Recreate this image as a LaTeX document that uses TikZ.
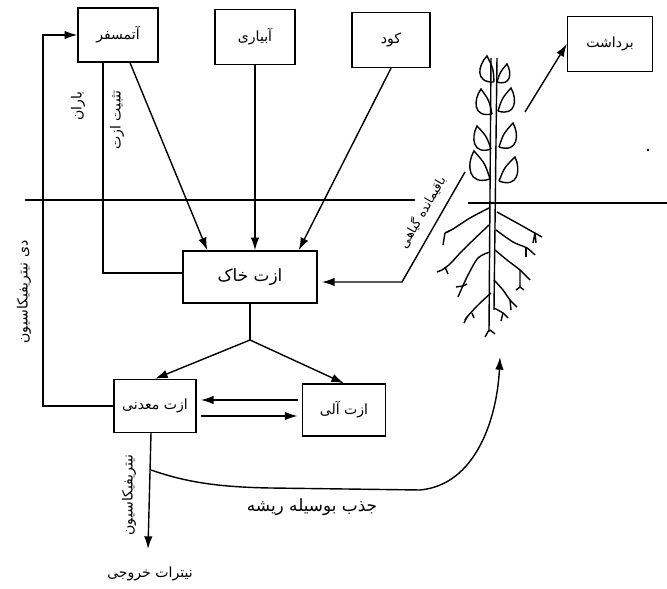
\documentclass[tikz,border=0pt]{standalone}
\usepackage{fontspec}
\newfontfamily\farsi[Script=Arabic]{DejaVu Sans}
\TeXXeTstate=1
\usetikzlibrary{arrows.meta}
\tikzset{
  box/.style={draw,line width=1pt,inner sep=0pt,font=\farsi},
  lbl/.style={inner sep=1pt,font=\farsi},
  ln/.style={line width=1pt},
  arr/.style={line width=1pt,-{Latex[length=9pt,width=6pt]}},
}

\begin{document}
\begin{tikzpicture}[x=0.025cm,y=-0.025cm]
  \useasboundingbox (0,0) rectangle (667,589);
  % boxes
  \node[box,minimum width=2cm,minimum height=1.35cm] (atm) at (118,35) {\beginR آتمسفر\endR};
  \node[box,minimum width=2cm,minimum height=1.375cm] (irr) at (255,37) {\beginR آبیاری\endR};
  \node[box,minimum width=1.95cm,minimum height=1.375cm] (fert) at (391,40) {\beginR کود\endR};
  \node[box,minimum width=2.125cm,minimum height=1.375cm] (harv) at (610,44) {\beginR برداشت\endR};
  \node[box,font=\farsi\large,minimum width=3.35cm,minimum height=1.3cm] (soil) at (250,277) {\beginR ازت خاک\endR};
  \node[box,minimum width=2.05cm,minimum height=1.325cm] (min) at (155,406) {\beginR ازت معدنی\endR};
  \node[box,minimum width=2.075cm,minimum height=1.3cm] (org) at (344,410) {\beginR ازت آلی\endR};
  % ground
  \draw[ln] (25,200) -- (415,200);
  \draw[ln] (468,203) -- (667,203);
  \fill (648,150) circle (1pt);
  % inputs
  \coordinate (rainTop) at (103,62);
  \draw[ln] (rainTop) |- ([yshift=0.1cm]soil.west);
  \draw[arr] ([xshift=0.3cm]atm.south) -- ([xshift=0.625cm]soil.north west);
  \draw[arr] (irr.south) -- (irr.south |- soil.north);
  \draw[arr] (fert.south) -- ([xshift=-0.475cm]soil.north east);
  \node[lbl,rotate=90] (rain) at (78,106) {\beginR باران\endR};
  \node[lbl,rotate=90] (fix) at (117,120) {\beginR تثبیت ازت\endR};
  % soil split
  \coordinate (split) at (250,340);
  \draw[ln] (soil.south) -- (split);
  \draw[arr] (split) -- (min.north);
  \draw[arr] (split) -- (org.north);
  \coordinate (oTop) at ([yshift=0.25cm]org.west);
  \coordinate (mBot) at ([yshift=-0.25cm]min.east);
  \draw[arr,shorten <=3pt,shorten >=3pt] (oTop) -- (oTop -| min.east);
  \draw[arr,shorten <=3pt,shorten >=3pt] (mBot) -- (mBot -| org.west);
  % denitrification
  \coordinate (dnBend) at (43,406);
  \draw[arr] (min.west) -- (dnBend) |- (atm.west);
  \node[lbl,rotate=90] (denit) at (24,292) {\beginR دی نیتریفیکاسیون\endR};
  % leaching
  \coordinate (leachEnd) at (148,549);
  \draw[arr] ([xshift=-0.1cm]min.south) -- (leachEnd);
  \node[lbl,rotate=90] (nitr) at (129,495) {\beginR نیتریفیکاسیون\endR};
  \node[lbl] (nout) at (150,574) {\beginR نیترات خروجی\endR};
  % uptake
  \coordinate (upStart) at (151,470);
  \coordinate (upEnd) at (500,357);
  \draw[arr] (upStart) .. controls (180,480) and (210,487) .. (270,488) -- (420,490) .. controls (475,485) and (497,420) .. (upEnd);
  \node[lbl,font=\farsi\large] (upt) at (312,507) {\beginR جذب بوسیله ریشه\endR};
  % residues
  \coordinate (resTop) at (465,172);
  \coordinate (resBend) at (402,282);
  \draw[arr,shorten >=3pt] (resTop) -- (resBend) -- (resBend -| soil.east);
  \node[lbl,font=\farsi\small,rotate=60] (resid) at (422,212) {\beginR باقیمانده گیاهی\endR};
  % harvest
  \coordinate (harvFrom) at (525,112);
  \draw[arr] (harvFrom) -- (harv.west);
  % plant
  \draw[ln] (491,58) -- (489,332);
  \draw[ln] (497,58) -- (494,310);
  \foreach \bx/\by/\tx/\ty/\k in {494/82/487/56/0.7, 492/114/481/89/0.7, 491/149/477/126/0.7, 490/179/474/151/0.7,
      497/82/507/64/-0.7, 498/111/511/88/-0.7, 499/147/513/123/-0.7, 499/181/515/157/-0.7}
    \draw[ln] (\bx,\by) .. controls ({\bx+0.15*(\tx-\bx)+\k*(\ty-\by)},{\by+0.15*(\ty-\by)-\k*(\tx-\bx)}) and ({\bx+0.75*(\tx-\bx)+0.6*\k*(\ty-\by)},{\by+0.75*(\ty-\by)-0.6*\k*(\tx-\bx)}) .. (\tx,\ty)
      .. controls ({\bx+0.5*(\tx-\bx)-0.15*\k*(\ty-\by)},{\by+0.5*(\ty-\by)+0.15*\k*(\tx-\bx)}) .. (\bx,\by);
  % roots
  \draw[ln] plot[smooth] coordinates {(489,208) (470,218) (453,229) (445,233)};
  \draw[ln] (445,233) -- (443,245) (445,233) -- (449,231);
  \draw[ln] plot[smooth] coordinates {(489,225) (463,250) (450,264) (442,270)};
  \draw[ln] (442,270) -- (437,272) (445,267) -- (448,274);
  \draw[ln] plot[smooth] coordinates {(490,252) (478,258) (467,277) (458,297)};
  \draw[ln] (463,286) -- (456,287) (463,286) -- (467,284);
  \draw[ln] plot[smooth] coordinates {(491,293) (478,305) (467,317) (465,320)};
  \draw[ln] (467,317) -- (464,323) (472,313) -- (474,318);
  \draw[ln] plot[smooth] coordinates {(497,212) (517,223) (533,232) (542,237)};
  \draw[ln] (535,233) -- (536,243) (535,233) -- (533,243);
  \draw[ln] plot[smooth] coordinates {(496,230) (513,242) (527,248) (535,255)};
  \draw[ln] (526,248) -- (526,257);
  \draw[ln] plot[smooth] coordinates {(495,250) (507,260) (520,270) (530,280)};
  \draw[ln] (520,270) -- (520,287) (520,287) -- (516,290) (520,287) -- (524,290);
  \draw[ln] plot[smooth] coordinates {(494,280) (503,290) (510,300) (517,307)};
  \draw[ln] (510,300) -- (511,310);
  \draw[ln] plot[smooth] coordinates {(494,308) (503,313) (508,318)};
  \draw[ln] (503,313) -- (501,321);
  \draw[ln] (489,330) -- (485,337) (490,330) -- (495,334);
\end{tikzpicture}
\end{document}
